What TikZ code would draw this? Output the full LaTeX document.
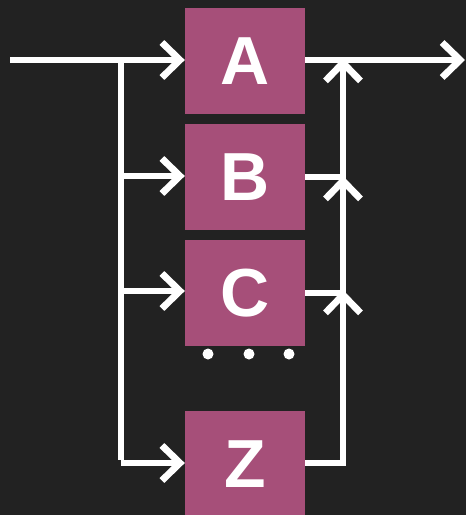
\documentclass[tikz,border=0pt]{standalone}
\usepackage{fontspec}
\setmainfont{Liberation Sans}
\usetikzlibrary{arrows.meta}
\definecolor{bgdark}{HTML}{222222}
\definecolor{blockfill}{HTML}{A64F79}
\begin{document}
\begin{tikzpicture}[x=1pt,y=-1pt,
  block/.style={fill=blockfill, draw=none, minimum width=120pt, minimum height=106pt,
    inner sep=0pt, font=\fontsize{68}{68}\bfseries\selectfont, text=white},
  wire/.style={white, line width=6.8pt, line join=miter},
  arr/.style={wire, -{Straight Barb[length=18pt, width=35pt, line width=6.8pt]}},
  dot/.style={circle, fill=white, minimum size=11pt, inner sep=0pt}]
  % background and frame
  \fill[bgdark] (0,0) rectangle (466,515);
  \useasboundingbox (0,0) rectangle (466,515);

  % blocks
  \node[block] (A) at (245,61) {A};
  \node[block] (B) at (245,177) {B};
  \node[block] (C) at (245,293) {C};
  \node[block] (Z) at (245,464) {Z};

  % ellipsis between C and Z
  \node[dot] (d1) at (208,354) {};
  \node[dot] (d2) at (249,354) {};
  \node[dot] (d3) at (289,354) {};

  % input side
  \coordinate (in) at (10,60);
  \coordinate (splitA) at (121,60);
  \coordinate (splitB) at (121,176);
  \coordinate (splitC) at (121,291);
  \coordinate (splitZ) at (121,463);
  \draw[arr] (in) -- (A.west |- in);
  \draw[wire] (splitA) -- ([yshift=3pt]splitZ);
  \draw[arr] (splitB) -- (B.west |- splitB);
  \draw[arr] (splitC) -- (C.west |- splitC);
  \draw[arr] (splitZ) -- (Z.west |- splitZ);

  % output side
  \coordinate (out) at (465,60);
  \coordinate (joinA) at (343,60);
  \coordinate (joinB) at (343,177);
  \coordinate (joinC) at (343,293);
  \coordinate (joinZ) at (343,463);
  \draw[arr] (A.east |- out) -- (out);
  \draw[arr] (B.east |- joinB) -- (joinB) -- ([yshift=2pt]joinA);
  \draw[arr] (C.east |- joinC) -- (joinC) -- ([yshift=1pt]joinB);
  \draw[arr] (Z.east |- joinZ) -- (joinZ) -- ([yshift=3pt]joinC);
\end{tikzpicture}
\end{document}
